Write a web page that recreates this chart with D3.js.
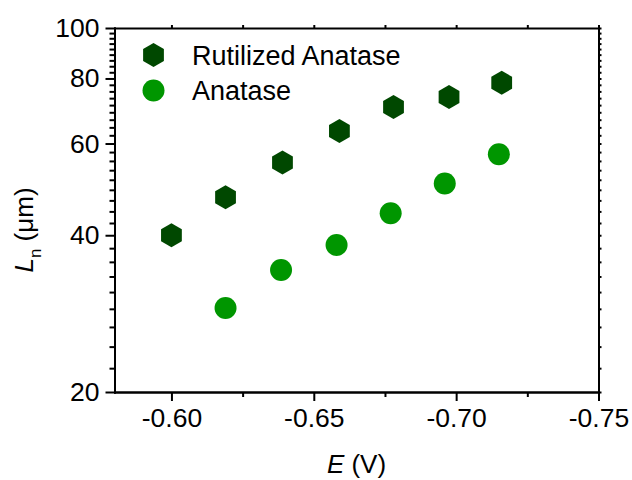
<!DOCTYPE html>
<html><head><meta charset="utf-8">
<script src="https://cdn.jsdelivr.net/npm/d3@7"></script>
<style>
body{margin:0;background:#fff;}
svg{display:block;font-family:"Liberation Sans",Arial,sans-serif;}
</style></head>
<body><svg id="c" width="632" height="480"></svg>
<script>
const rutilE = [-0.600, -0.619, -0.639, -0.659, -0.678, -0.6975, -0.716];
const rutilL = [40.0, 47.3, 55.2, 63.4, 70.5, 73.7, 78.5];
const anatE = [-0.619, -0.6385, -0.658, -0.677, -0.696, -0.715];
const anatL = [29.0, 34.3, 38.3, 44.1, 50.3, 57.2];
const xTicks = [-0.60, -0.65, -0.70, -0.75];
const xMinor = [-0.625, -0.675, -0.725];
const yTicks = [20, 40, 60, 80, 100];
const seriesNames = ["Rutilized Anatase", "Anatase"];
const colors = ["#004800", "#009600"];

const svg = d3.select("#c");
const L = 114.5, R = 598.5, T = 28, B = 392;
const x = d3.scaleLinear().domain([-0.58, -0.75]).range([L, R]);
const y = d3.scaleLog().domain([20, 100]).range([B, T]);

// minor y ticks: 8 per major interval
const yMinor = [];
for (let i = 0; i < yTicks.length - 1; i++) {
  const a = yTicks[i], b = yTicks[i+1];
  for (let k = 1; k < 9; k++) yMinor.push(a + k*(b-a)/9);
}
const fmtX = d3.format(".2f");
const fs = 26.5;

// bottom axis
const gx = svg.append("g").attr("transform", `translate(0,${B})`);
gx.call(d3.axisBottom(x).tickValues(xTicks).tickFormat(d => fmtX(d).replace("−","-")).tickSize(9).tickPadding(7).tickSizeOuter(0));
gx.append("g").call(d3.axisBottom(x).tickValues(xMinor).tickFormat("").tickSize(5).tickSizeOuter(0));
// top axis
const gt = svg.append("g").attr("transform", `translate(0,${T})`);
gt.call(d3.axisTop(x).tickValues(xTicks.concat(xMinor)).tickFormat("").tickSize(3).tickSizeOuter(0));
// left axis
const gy = svg.append("g").attr("transform", `translate(${L},0)`);
gy.call(d3.axisLeft(y).tickValues(yTicks).tickFormat(d3.format("d")).tickSize(9).tickPadding(6).tickSizeOuter(0));
gy.append("g").call(d3.axisLeft(y).tickValues(yMinor).tickFormat("").tickSize(5).tickSizeOuter(0));
// right axis
const gr = svg.append("g").attr("transform", `translate(${R},0)`);
gr.call(d3.axisRight(y).tickValues(yTicks.concat(yMinor)).tickFormat("").tickSize(3).tickSizeOuter(0));

svg.selectAll(".domain").attr("stroke", "#000").attr("stroke-width", 2).attr("stroke-linecap", "square");
svg.selectAll(".tick line").attr("stroke", "#000").attr("stroke-width", 2);
svg.selectAll(".tick text").attr("font-size", fs).attr("fill", "#000").attr("font-family", '"Liberation Sans",Arial,sans-serif');

// hexagon path (pointy top)
function hexPath(r) {
  const pts = d3.range(6).map(i => {
    const a = Math.PI/180*(60*i - 90);
    return [r*Math.cos(a), r*Math.sin(a)];
  });
  return "M" + pts.map(p => p.join(",")).join("L") + "Z";
}
const hr = 12, cr = 11;

svg.append("g").selectAll("path").data(rutilE.map((e,i)=>({e, l: rutilL[i]}))).join("path")
  .attr("d", hexPath(hr)).attr("fill", colors[0])
  .attr("transform", d => `translate(${x(d.e)},${y(d.l)})`);
svg.append("g").selectAll("circle").data(anatE.map((e,i)=>({e, l: anatL[i]}))).join("circle")
  .attr("cx", d => x(d.e)).attr("cy", d => y(d.l)).attr("r", cr).attr("fill", colors[1]);

// legend
const lg = svg.append("g");
lg.append("path").attr("d", hexPath(hr)).attr("fill", colors[0]).attr("transform", "translate(153.5,55)");
lg.append("circle").attr("cx", 153.5).attr("cy", 90.5).attr("r", cr).attr("fill", colors[1]);
lg.append("text").attr("x", 192).attr("y", 64.5).attr("font-size", 27).text(seriesNames[0]);
lg.append("text").attr("x", 192).attr("y", 99.5).attr("font-size", 27).text(seriesNames[1]);

// axis titles
const xt = svg.append("text").attr("x", (L+R)/2).attr("y", 473).attr("text-anchor", "middle").attr("font-size", 26);
xt.append("tspan").attr("font-style", "italic").text("E");
xt.append("tspan").text(" (V)");

const yt = svg.append("text").attr("transform", "translate(33,230) rotate(-90)").attr("text-anchor", "middle").attr("font-size", 26);
yt.append("tspan").attr("font-style", "italic").text("L");
yt.append("tspan").attr("font-size", 17).attr("dy", 8).text("n");
yt.append("tspan").attr("dy", -8).text(" (μm)");
</script>
</body></html>
